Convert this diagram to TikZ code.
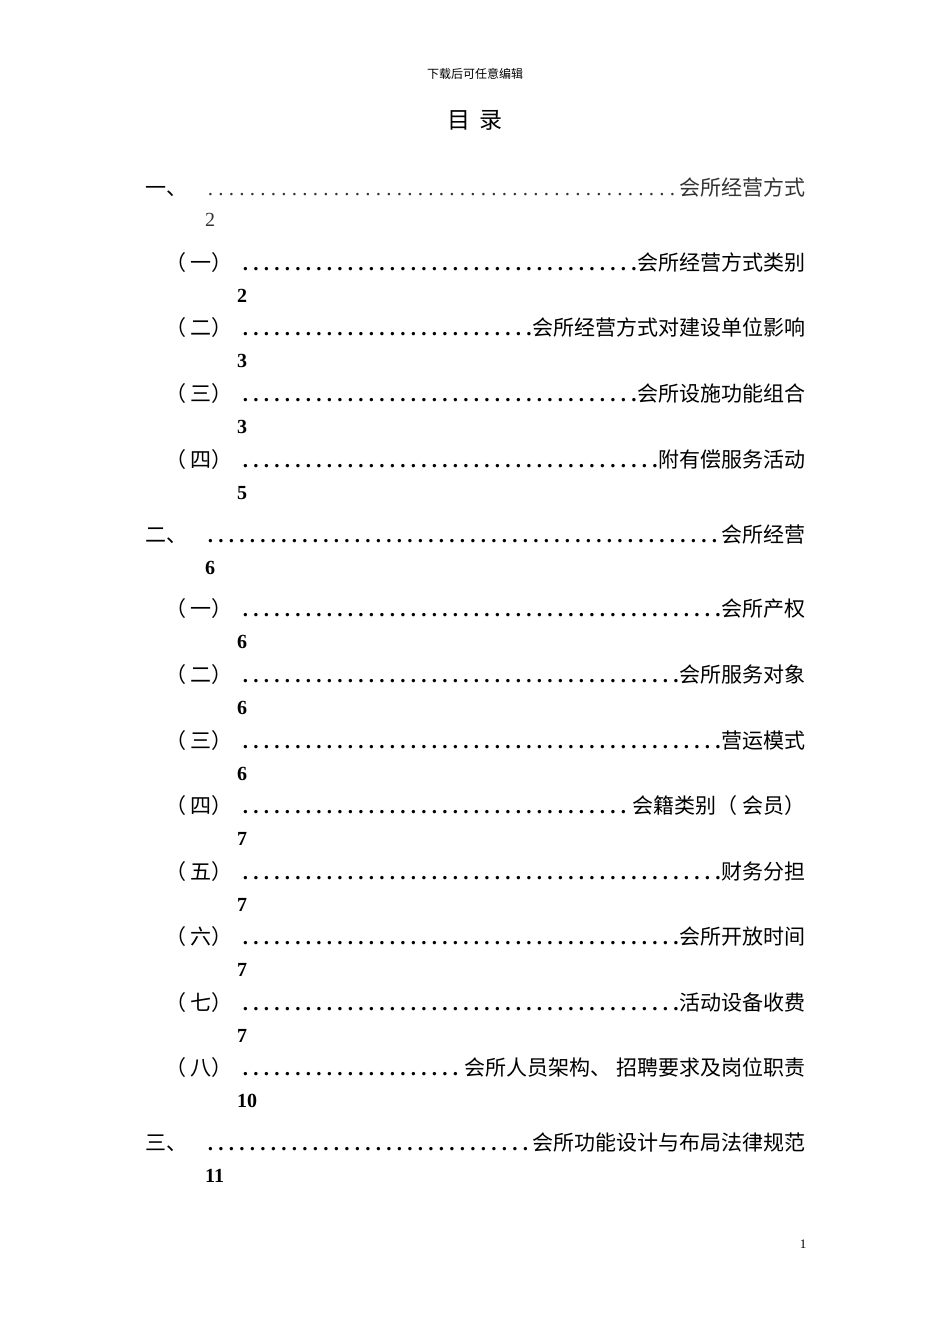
\documentclass[tikz,border=0pt]{standalone}
\usepackage{fontspec}
\newfontfamily\cjk{Noto Sans CJK SC}
\newfontfamily\ser{Liberation Serif}
\tikzset{lbl/.style={anchor=base west,inner sep=0pt,font=\cjk\fontsize{21}{21}\selectfont},
 pg/.style={anchor=base west,inner sep=0pt,font=\ser\fontsize{20}{20}\selectfont}}
\newcommand{\tocline}[2]{\hbox to #1{\leaders\hbox to 10.5pt{\hss{\ser\bfseries .}\hss}\hfill\hspace{-3pt}#2}}
\begin{document}
\begin{tikzpicture}[x=1pt,y=-1pt]
\useasboundingbox (0,0) rectangle (950,1344);
\node[anchor=base,inner sep=0pt,font=\cjk\fontsize{12}{12}\selectfont] (hd) at (475,78) {下载后可任意编辑};
\node[anchor=base,inner sep=0pt,font=\cjk\fontsize{23}{23}\selectfont] (ti) at (475,128) {目\hspace{10pt}录};
\node[lbl] (a0) at (145,195) {一、};
\node[lbl,font=\cjk\fontsize{21}{21}\selectfont\color{black!80}] (a1) at (205,195) {\hbox to 600pt{\leaders\hbox to 10.5pt{\hss{\ser .}\hss}\hfill\hspace{-3pt}会所经营方式}};
\node[pg,text=black!80] (a2) at (205,226) {2};
\foreach \n/\t/\w/\p [count=\i] in {
 一/会所经营方式类别/2/262, 二/会所经营方式对建设单位影响/3/327, 三/会所设施功能组合/3/393, 四/附有偿服务活动/5/459}{
 \node[lbl] (b\i) at (165,\p+8) {（ \n）};
 \node[lbl] (c\i) at (240,\p+8) {\tocline{565pt}{\t}};
 \node[pg] (d\i) at (237,\p+40) {\textbf{\w}};
}
\node[lbl] (e0) at (145,542) {二、};
\node[lbl] (e1) at (205,542) {\tocline{600pt}{会所经营}};
\node[pg] (e2) at (205,574) {\textbf{6}};
\foreach \n/\t/\w/\p [count=\i] in {
 一/会所产权/6/608, 二/会所服务对象/6/674, 三/营运模式/6/740, 四/会籍类别（ 会员）/7/805,
 五/财务分担/7/871, 六/会所开放时间/7/936, 七/活动设备收费/7/1002, 八/会所人员架构、\ 招聘要求及岗位职责/10/1067}{
 \node[lbl] (f\i) at (165,\p+8) {（ \n）};
 \node[lbl] (g\i) at (240,\p+8) {\tocline{565pt}{\t}};
 \node[pg] (h\i) at (237,\p+40) {\textbf{\w}};
}
\node[lbl] (k0) at (145,1150) {三、};
\node[lbl] (k1) at (205,1150) {\tocline{600pt}{会所功能设计与布局法律规范}};
\node[pg] (k2) at (205,1182) {\textbf{11}};
\node[anchor=base,inner sep=0pt,font=\ser\fontsize{13}{13}\selectfont] (pn) at (803,1248) {1};
\end{tikzpicture}
\end{document}
